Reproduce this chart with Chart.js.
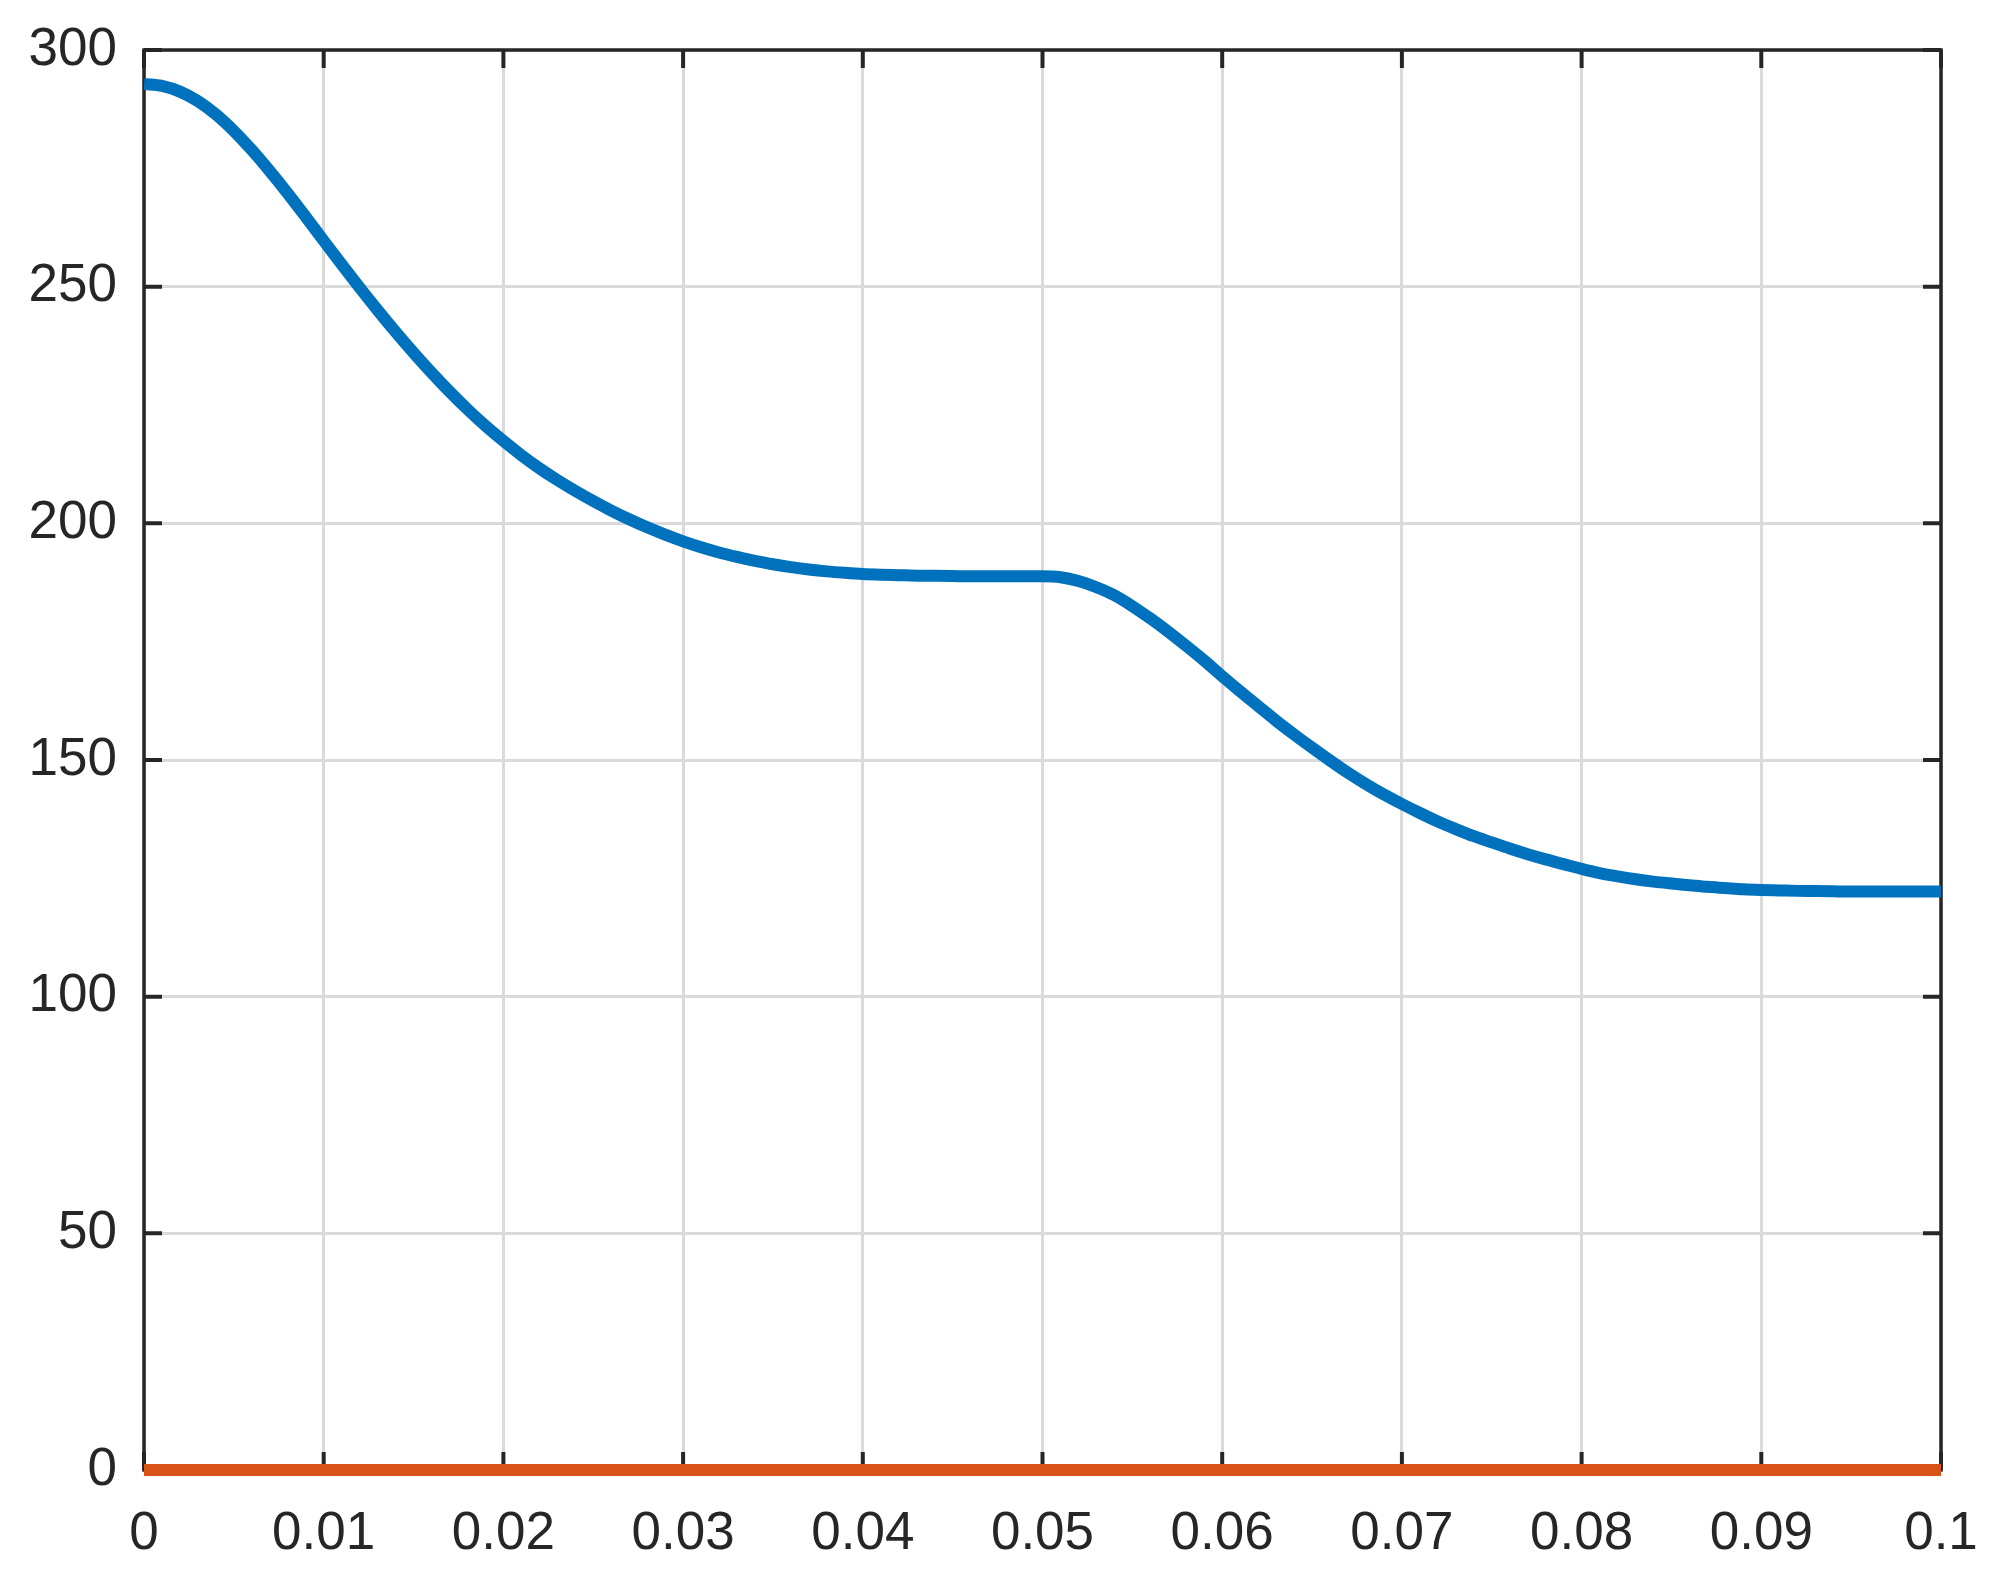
<!DOCTYPE html>
<html>
<head>
<meta charset="utf-8">
<script src="https://cdn.jsdelivr.net/npm/chart.js@4/dist/chart.umd.min.js"></script>
<style>
  html, body { margin: 0; padding: 0; background: #fff; }
  #wrap { width: 1997px; height: 1578px; }
</style>
</head>
<body>
<div id="wrap"><canvas id="c" width="1997" height="1578"></canvas></div>
<script>
// time axis (s), one sample per millisecond
const timeValues = [
  0.000, 0.001, 0.002, 0.003, 0.004, 0.005, 0.006, 0.007, 0.008, 0.009,
  0.010, 0.011, 0.012, 0.013, 0.014, 0.015, 0.016, 0.017, 0.018, 0.019,
  0.020, 0.021, 0.022, 0.023, 0.024, 0.025, 0.026, 0.027, 0.028, 0.029,
  0.030, 0.031, 0.032, 0.033, 0.034, 0.035, 0.036, 0.037, 0.038, 0.039,
  0.040, 0.041, 0.042, 0.043, 0.044, 0.045, 0.046, 0.047, 0.048, 0.049,
  0.050, 0.051, 0.052, 0.053, 0.054, 0.055, 0.056, 0.057, 0.058, 0.059,
  0.060, 0.061, 0.062, 0.063, 0.064, 0.065, 0.066, 0.067, 0.068, 0.069,
  0.070, 0.071, 0.072, 0.073, 0.074, 0.075, 0.076, 0.077, 0.078, 0.079,
  0.080, 0.081, 0.082, 0.083, 0.084, 0.085, 0.086, 0.087, 0.088, 0.089,
  0.090, 0.091, 0.092, 0.093, 0.094, 0.095, 0.096, 0.097, 0.098, 0.099,
  0.100
];
// blue curve
const blueValues = [
  292.8, 292.4, 291.2, 289.2, 286.4, 282.9, 278.85, 274.4, 269.7, 264.75,
  259.7, 254.7, 249.8, 245.05, 240.45, 236.05, 231.85, 227.85, 224.1, 220.6,
  217.4, 214.4, 211.65, 209.15, 206.85, 204.7, 202.7, 200.85, 199.15, 197.6,
  196.2, 194.95, 193.85, 192.9, 192.05, 191.35, 190.75, 190.25, 189.85, 189.55,
  189.3, 189.15, 189.05, 188.95, 188.9, 188.85, 188.8, 188.8, 188.8, 188.8,
  188.8, 188.6, 187.8, 186.5, 184.8, 182.5, 179.9, 177.1, 174.1, 171.0,
  167.7, 164.5, 161.4, 158.3, 155.4, 152.6, 149.9, 147.3, 144.9, 142.7,
  140.7, 138.8, 137.0, 135.4, 133.9, 132.6, 131.3, 130.1, 129.0, 128.0,
  127.0, 126.1, 125.4, 124.8, 124.3, 123.9, 123.55, 123.2, 122.95, 122.7,
  122.55, 122.45, 122.35, 122.3, 122.25, 122.2, 122.2, 122.2, 122.2, 122.2,
  122.2
];
// second series sits on zero the whole time
const orangeTime = [0, 0.1];
const orangeValues = [0, 0];

const xTickLabels = ['0', '0.01', '0.02', '0.03', '0.04', '0.05', '0.06', '0.07', '0.08', '0.09', '0.1'];
const yTickLabels = ['0', '50', '100', '150', '200', '250', '300'];

const AXIS_COLOR = '#262626';
const FONT = { family: '"Liberation Sans", Arial, Helvetica, sans-serif', size: 53 };

// box round the plot and inward tick marks (MATLAB look)
const boxPlugin = {
  id: 'boxTicks',
  beforeDatasetsDraw(chart) {
    const { ctx, chartArea: a, scales } = chart;
    const len = 18;
    ctx.save();
    ctx.strokeStyle = AXIS_COLOR;
    ctx.lineWidth = 4;
    ctx.beginPath();
    scales.x.ticks.forEach(t => {
      const px = scales.x.getPixelForValue(t.value);
      ctx.moveTo(px, a.bottom); ctx.lineTo(px, a.bottom - len);
      ctx.moveTo(px, a.top);    ctx.lineTo(px, a.top + len);
    });
    scales.y.ticks.forEach(t => {
      const py = scales.y.getPixelForValue(t.value);
      ctx.moveTo(a.left, py);  ctx.lineTo(a.left + len, py);
      ctx.moveTo(a.right, py); ctx.lineTo(a.right - len, py);
    });
    ctx.stroke();
    ctx.lineWidth = 3.5;
    ctx.strokeRect(a.left, a.top, a.right - a.left, a.bottom - a.top);
    ctx.restore();
  }
};

function noPad(s) {
  s.paddingLeft = 0; s.paddingRight = 0; s.paddingTop = 0; s.paddingBottom = 0;
}

new Chart(document.getElementById('c'), {
  type: 'line',
  data: {
    datasets: [
      {
        data: timeValues.map((t, i) => ({ x: t, y: blueValues[i] })),
        borderColor: '#0072BD',
        borderWidth: 12,
        pointRadius: 0,
        cubicInterpolationMode: 'monotone',
        clip: { left: 0, right: 0, top: 8, bottom: 8 },
        fill: false
      },
      {
        data: orangeTime.map((t, i) => ({ x: t, y: orangeValues[i] })),
        borderColor: '#D95319',
        borderWidth: 12,
        pointRadius: 0,
        clip: { left: 0, right: 0, top: 8, bottom: 8 },
        fill: false
      }
    ]
  },
  options: {
    responsive: false,
    devicePixelRatio: 1,
    animation: false,
    layout: { padding: { top: 50, right: 56, left: 0, bottom: 0 } },
    plugins: { legend: { display: false }, tooltip: { enabled: false } },
    scales: {
      x: {
        type: 'linear',
        min: 0, max: 0.1,
        afterFit: s => { s.height = 108; noPad(s); },
        grid: { color: '#dadada', lineWidth: 3, drawTicks: false },
        border: { display: false },
        ticks: {
          stepSize: 0.01,
          padding: 33,
          color: AXIS_COLOR,
          font: FONT,
          maxRotation: 0,
          autoSkip: false,
          callback: (v, i) => xTickLabels[i]
        }
      },
      y: {
        type: 'linear',
        min: 0, max: 300,
        afterFit: s => { s.width = 144; noPad(s); },
        grid: { color: '#dadada', lineWidth: 3, drawTicks: false },
        border: { display: false },
        ticks: {
          stepSize: 50,
          padding: 27,
          color: AXIS_COLOR,
          font: FONT,
          callback: (v, i) => yTickLabels[i]
        }
      }
    }
  },
  plugins: [boxPlugin]
});
</script>
</body>
</html>
